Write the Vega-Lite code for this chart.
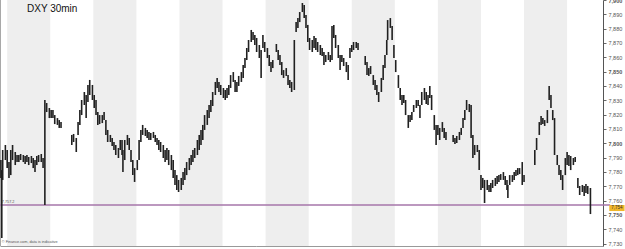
{
"$schema":"https://vega.github.io/schema/vega-lite/v6.json",
"width":603,"height":246,
"autosize":{"type":"none"},
"padding":{"left":0,"top":0,"right":22,"bottom":3},
"background":"white",
"config":{"view":{"stroke":null}},
"data":{"values":[{}]},
"title":{"text":"DXY 30min","anchor":"start","frame":"group","orient":"top","offset":-24,"dx":27,"fontSize":10,"font":"Liberation Sans","fontWeight":"normal","color":"#111","baseline":"alphabetic"},
"layer":[
{"data":{"values":[{"s":8,"e":56},{"s":104,"e":152},{"s":200,"e":248},{"s":296,"e":344},{"s":392,"e":440},{"s":488,"e":536},{"s":584,"e":632}]},
 "mark":{"type":"rect","color":"#eeeeee"},
 "encoding":{"x":{"field":"s","type":"quantitative","scale":{"domain":[0,672],"nice":false,"zero":false},"axis":{"orient":"bottom","domain":true,"domainColor":"#999","ticks":false,"labels":false,"grid":false,"title":null}},"x2":{"field":"e"}}},
{"mark":{"type":"rule","color":"#999","strokeWidth":1},"encoding":{"x":{"datum":0.4}}},
{"mark":{"type":"rule","color":"#a676aa","strokeWidth":1.5,"clip":false},"encoding":{
  "y":{"datum":7.7569,"type":"quantitative","scale":{"domain":[7.7283,7.9],"nice":false,"zero":false},
   "axis":{"orient":"right","title":null,"grid":false,"tickCount":50,"values":[7.73,7.74,7.75,7.76,7.77,7.78,7.79,7.8,7.81,7.82,7.83,7.84,7.85,7.86,7.87,7.88,7.89,7.9],
    "labelExpr":"replace(format(datum.value,'.3f'),'.',',')","labelFontSize":5.5,"labelFont":"Liberation Sans","labelColor":"#555",
    "labelFontWeight":{"condition":{"test":"abs(datum.value*20-round(datum.value*20))<0.001","value":"bold"},"value":"normal"},
    "tickSize":3,"tickColor":"#666","domainColor":"#555","labelPadding":2,"labelFlush":false,"labelOverlap":false}},
  "x":{"datum":0},"x2":{"datum":680}}},
{"mark":{"type":"text","fontSize":3.8,"align":"left","baseline":"bottom","color":"#555","font":"Liberation Sans"},"encoding":{"x":{"datum":2},"y":{"datum":7.7578},"text":{"value":"7,757.2"}}},
{"mark":{"type":"text","fontSize":3.8,"align":"left","baseline":"bottom","color":"#555","font":"Liberation Sans"},"encoding":{"x":{"datum":2},"y":{"datum":7.7297},"text":{"value":"© Finance.com, data is indicative"}}},
{"data":{"values":[
{"b":1,"h":7.7883,"l":7.7758},{"b":2,"h":7.7813,"l":7.7339},{"b":3,"h":7.7953,"l":7.7744},{"b":6,"h":7.7988,"l":7.7883},{"b":8,"h":7.7953,"l":7.7827},{"b":10,"h":7.7869,"l":7.7758},{"b":12,"h":7.7953,"l":7.7778},{"b":14,"h":7.7988,"l":7.7883},{"b":17,"h":7.7939,"l":7.7848},{"b":19,"h":7.7918,"l":7.7869},{"b":21,"h":7.7918,"l":7.7869},{"b":23,"h":7.7925,"l":7.7883},{"b":26,"h":7.7918,"l":7.7869},{"b":28,"h":7.7911,"l":7.7855},{"b":30,"h":7.7918,"l":7.7869},{"b":32,"h":7.7904,"l":7.7848},{"b":35,"h":7.7911,"l":7.7862},{"b":37,"h":7.7897,"l":7.7827},{"b":39,"h":7.7883,"l":7.7799},{"b":41,"h":7.7911,"l":7.7848},{"b":43,"h":7.7918,"l":7.7869},{"b":46,"h":7.7925,"l":7.7869},{"b":48,"h":7.7897,"l":7.7827},{"b":50,"h":7.8302,"l":7.7569},{"b":52,"h":7.8281,"l":7.8218},{"b":55,"h":7.8246,"l":7.8176},{"b":57,"h":7.8232,"l":7.8176},{"b":59,"h":7.8232,"l":7.8176},{"b":61,"h":7.8197,"l":7.8134},{"b":64,"h":7.8176,"l":7.8128},{"b":66,"h":7.8162,"l":7.8107},{"b":68,"h":7.8148,"l":7.8107},
{"b":80,"h":7.8058,"l":7.7988},{"b":82,"h":7.8065,"l":7.8009},{"b":85,"h":7.8037,"l":7.7939},{"b":87,"h":7.8148,"l":7.8058},{"b":89,"h":7.8232,"l":7.8128},{"b":91,"h":7.8302,"l":7.8197},{"b":94,"h":7.8358,"l":7.8267},{"b":96,"h":7.8337,"l":7.8176},{"b":98,"h":7.8407,"l":7.8288},{"b":100,"h":7.8442,"l":7.8337},{"b":103,"h":7.8407,"l":7.8302},{"b":105,"h":7.8337,"l":7.8246},{"b":107,"h":7.8302,"l":7.8197},{"b":109,"h":7.8218,"l":7.8128},{"b":111,"h":7.8197,"l":7.8134},{"b":114,"h":7.8197,"l":7.8141},{"b":116,"h":7.8218,"l":7.8162},{"b":118,"h":7.8162,"l":7.8058},{"b":120,"h":7.8093,"l":7.8009},{"b":123,"h":7.8058,"l":7.8009},{"b":125,"h":7.8037,"l":7.7981},{"b":127,"h":7.8009,"l":7.7953},{"b":129,"h":7.7988,"l":7.7918},{"b":132,"h":7.7967,"l":7.7897},{"b":134,"h":7.8023,"l":7.7953},{"b":136,"h":7.8023,"l":7.7918},{"b":137,"h":7.7953,"l":7.7799},{"b":139,"h":7.8023,"l":7.7883},{"b":142,"h":7.8058,"l":7.7988},{"b":144,"h":7.8037,"l":7.7953},{"b":146,"h":7.7953,"l":7.7869},{"b":148,"h":7.7883,"l":7.7778},{"b":150,"h":7.7827,"l":7.773},{"b":153,"h":7.7883,"l":7.7813},{"b":155,"h":7.8023,"l":7.7883},{"b":157,"h":7.8093,"l":7.8009},{"b":159,"h":7.8128,"l":7.8058},{"b":162,"h":7.8107,"l":7.8051},{"b":164,"h":7.8093,"l":7.8037},{"b":166,"h":7.8079,"l":7.8023},{"b":168,"h":7.8072,"l":7.8023},{"b":171,"h":7.8079,"l":7.8037},{"b":173,"h":7.8058,"l":7.8009},{"b":175,"h":7.8037,"l":7.7988},{"b":177,"h":7.8023,"l":7.7953},{"b":179,"h":7.8009,"l":7.7939},{"b":182,"h":7.7988,"l":7.7897},{"b":184,"h":7.7953,"l":7.7869},{"b":186,"h":7.7967,"l":7.7883},{"b":188,"h":7.7953,"l":7.7848},{"b":191,"h":7.7918,"l":7.7813},{"b":193,"h":7.7883,"l":7.7758},{"b":195,"h":7.7813,"l":7.7709},{"b":197,"h":7.7778,"l":7.7674},{"b":199,"h":7.7744,"l":7.766},{"b":202,"h":7.7758,"l":7.7674},{"b":204,"h":7.7799,"l":7.7709},{"b":206,"h":7.7827,"l":7.7744},{"b":208,"h":7.7869,"l":7.7778},{"b":211,"h":7.7897,"l":7.7813},{"b":213,"h":7.7918,"l":7.7848},{"b":215,"h":7.7953,"l":7.7869},{"b":217,"h":7.7967,"l":7.7897},{"b":220,"h":7.8023,"l":7.7918},{"b":222,"h":7.8058,"l":7.7953},{"b":224,"h":7.8093,"l":7.7988},{"b":226,"h":7.8128,"l":7.8023},{"b":228,"h":7.8197,"l":7.8093},{"b":231,"h":7.8232,"l":7.8128},{"b":233,"h":7.8267,"l":7.8176},{"b":235,"h":7.8302,"l":7.8218},{"b":237,"h":7.8358,"l":7.826},{"b":240,"h":7.8428,"l":7.8337},{"b":242,"h":7.8456,"l":7.8386},{"b":244,"h":7.8428,"l":7.8358},{"b":246,"h":7.8407,"l":7.8337},{"b":249,"h":7.8386,"l":7.8316},{"b":251,"h":7.8372,"l":7.8302},{"b":253,"h":7.8386,"l":7.8316},{"b":255,"h":7.8407,"l":7.8337},{"b":257,"h":7.8476,"l":7.8386},{"b":260,"h":7.8497,"l":7.8428},{"b":262,"h":7.8442,"l":7.8358},{"b":264,"h":7.8428,"l":7.8358},{"b":266,"h":7.847,"l":7.84},{"b":269,"h":7.8497,"l":7.8428},{"b":271,"h":7.8546,"l":7.8456},{"b":273,"h":7.8595,"l":7.8525},{"b":275,"h":7.8665,"l":7.8581},{"b":277,"h":7.8721,"l":7.8637},{"b":280,"h":7.8791,"l":7.8707},{"b":282,"h":7.8777,"l":7.8721},{"b":284,"h":7.8756,"l":7.8686},{"b":286,"h":7.8735,"l":7.8637},{"b":289,"h":7.8686,"l":7.8595},{"b":291,"h":7.8651,"l":7.8456},{"b":293,"h":7.8756,"l":7.8665},{"b":295,"h":7.8707,"l":7.8637},{"b":298,"h":7.8665,"l":7.8595},{"b":300,"h":7.8616,"l":7.8539},{"b":302,"h":7.8567,"l":7.8497},{"b":304,"h":7.8581,"l":7.8525},
{"b":308,"h":7.8693,"l":7.8637},{"b":310,"h":7.8651,"l":7.8581},{"b":312,"h":7.8616,"l":7.8546},{"b":314,"h":7.8567,"l":7.8476},{"b":316,"h":7.8511,"l":7.8456},{"b":319,"h":7.8525,"l":7.847},{"b":321,"h":7.8476,"l":7.8407},{"b":323,"h":7.8442,"l":7.8386},{"b":325,"h":7.8428,"l":7.8358},{"b":328,"h":7.8721,"l":7.8372},{"b":330,"h":7.8846,"l":7.8777},{"b":332,"h":7.8874,"l":7.8805},{"b":334,"h":7.8916,"l":7.8846},{"b":337,"h":7.8979,"l":7.8916},{"b":339,"h":7.8965,"l":7.8874},{"b":341,"h":7.8895,"l":7.8805},{"b":343,"h":7.8826,"l":7.8707},{"b":345,"h":7.8735,"l":7.8651},{"b":348,"h":7.8721,"l":7.8637},{"b":350,"h":7.8749,"l":7.8665},{"b":352,"h":7.8735,"l":7.8651},{"b":354,"h":7.8707,"l":7.8637},{"b":357,"h":7.8686,"l":7.8616},{"b":359,"h":7.8665,"l":7.8609},{"b":361,"h":7.8637,"l":7.8546},{"b":363,"h":7.8616,"l":7.8567},{"b":366,"h":7.8637,"l":7.8581},{"b":368,"h":7.8616,"l":7.8567},{"b":370,"h":7.8819,"l":7.8581},{"b":372,"h":7.8826,"l":7.8735},{"b":374,"h":7.8756,"l":7.8665},{"b":377,"h":7.8686,"l":7.8595},{"b":379,"h":7.8616,"l":7.8511},{"b":381,"h":7.8616,"l":7.8567},{"b":383,"h":7.8595,"l":7.8539},{"b":386,"h":7.8567,"l":7.8497},{"b":388,"h":7.8546,"l":7.8442},{"b":390,"h":7.8665,"l":7.8595},{"b":392,"h":7.8686,"l":7.8637},{"b":394,"h":7.8707,"l":7.8651},{"b":397,"h":7.8707,"l":7.8665},{"b":399,"h":7.87,"l":7.8651},
{"b":407,"h":7.8609,"l":7.8546},{"b":409,"h":7.8567,"l":7.8476},{"b":411,"h":7.8525,"l":7.847},{"b":413,"h":7.8539,"l":7.8483},{"b":416,"h":7.8476,"l":7.8407},{"b":418,"h":7.8442,"l":7.8372},{"b":420,"h":7.8407,"l":7.8337},{"b":422,"h":7.8358,"l":7.8288},{"b":425,"h":7.8456,"l":7.8358},{"b":427,"h":7.8546,"l":7.8442},{"b":429,"h":7.8616,"l":7.8525},{"b":431,"h":7.8721,"l":7.8616},{"b":432,"h":7.886,"l":7.8721},{"b":435,"h":7.8874,"l":7.8805},{"b":437,"h":7.8819,"l":7.8721},{"b":439,"h":7.8686,"l":7.8595},{"b":441,"h":7.8581,"l":7.8497},{"b":444,"h":7.8476,"l":7.8386},{"b":446,"h":7.8386,"l":7.8302},{"b":448,"h":7.8337,"l":7.8267},{"b":450,"h":7.8337,"l":7.8281},{"b":452,"h":7.8302,"l":7.8197},{"b":455,"h":7.8197,"l":7.8107},{"b":457,"h":7.8197,"l":7.8148},{"b":459,"h":7.8218,"l":7.8162},{"b":461,"h":7.8267,"l":7.8218},{"b":464,"h":7.8302,"l":7.8246},{"b":466,"h":7.8302,"l":7.826},{"b":468,"h":7.8267,"l":7.8176},{"b":470,"h":7.8358,"l":7.8267},{"b":473,"h":7.8386,"l":7.8302},{"b":475,"h":7.8358,"l":7.8274},{"b":477,"h":7.8337,"l":7.8267},{"b":479,"h":7.84,"l":7.8316},{"b":481,"h":7.8337,"l":7.8232},{"b":484,"h":7.8197,"l":7.8093},{"b":486,"h":7.8128,"l":7.7988},{"b":488,"h":7.8128,"l":7.8058},{"b":490,"h":7.8107,"l":7.8023},{"b":493,"h":7.8148,"l":7.8079},{"b":495,"h":7.8107,"l":7.8037},{"b":497,"h":7.8079,"l":7.8023},
{"b":505,"h":7.8058,"l":7.8009},{"b":507,"h":7.8037,"l":7.7995},{"b":509,"h":7.8051,"l":7.8002},{"b":512,"h":7.8079,"l":7.8023},{"b":514,"h":7.8107,"l":7.8058},{"b":516,"h":7.8176,"l":7.8107},{"b":518,"h":7.8232,"l":7.8162},{"b":520,"h":7.8302,"l":7.8232},{"b":523,"h":7.8274,"l":7.8218},{"b":525,"h":7.8267,"l":7.8037},{"b":527,"h":7.8058,"l":7.7897},{"b":529,"h":7.7988,"l":7.7918},{"b":532,"h":7.7988,"l":7.7939},{"b":534,"h":7.7953,"l":7.7813},{"b":536,"h":7.7778,"l":7.7674},{"b":538,"h":7.7758,"l":7.7688},{"b":540,"h":7.7744,"l":7.7583},{"b":543,"h":7.7744,"l":7.7674},{"b":545,"h":7.7709,"l":7.766},{"b":547,"h":7.7723,"l":7.766},{"b":549,"h":7.7744,"l":7.7688},{"b":552,"h":7.7758,"l":7.7702},{"b":554,"h":7.7772,"l":7.7716},{"b":556,"h":7.7778,"l":7.773},{"b":558,"h":7.7785,"l":7.7744},{"b":561,"h":7.7799,"l":7.7744},{"b":563,"h":7.7772,"l":7.7709},{"b":565,"h":7.7744,"l":7.7674},{"b":566,"h":7.7709,"l":7.7618},{"b":568,"h":7.7778,"l":7.7709},{"b":571,"h":7.7778,"l":7.773},{"b":573,"h":7.7799,"l":7.7744},{"b":575,"h":7.7813,"l":7.7772},{"b":577,"h":7.7827,"l":7.7778},{"b":579,"h":7.7827,"l":7.7785},{"b":582,"h":7.7869,"l":7.7709},{"b":584,"h":7.7778,"l":7.773},
{"b":596,"h":7.7953,"l":7.7848},{"b":598,"h":7.8037,"l":7.7953},{"b":601,"h":7.8148,"l":7.8058},{"b":603,"h":7.819,"l":7.8128},{"b":605,"h":7.8176,"l":7.8134},{"b":607,"h":7.8162,"l":7.8121},{"b":610,"h":7.8232,"l":7.8141},{"b":612,"h":7.84,"l":7.8302},{"b":614,"h":7.8337,"l":7.8246},{"b":616,"h":7.8232,"l":7.8162},{"b":618,"h":7.8176,"l":7.7918},{"b":621,"h":7.7918,"l":7.7848},{"b":623,"h":7.7848,"l":7.7778},{"b":625,"h":7.7813,"l":7.7744},{"b":627,"h":7.7778,"l":7.7674},{"b":630,"h":7.7897,"l":7.7778},{"b":632,"h":7.7939,"l":7.7848},{"b":634,"h":7.7918,"l":7.7841},{"b":636,"h":7.7911,"l":7.7813},{"b":639,"h":7.7897,"l":7.7848},{"b":641,"h":7.7904,"l":7.7869},
{"b":644,"h":7.7758,"l":7.7688},{"b":646,"h":7.7702,"l":7.7639},{"b":649,"h":7.7709,"l":7.766},{"b":651,"h":7.7702,"l":7.7632},{"b":653,"h":7.7716,"l":7.7653},{"b":655,"h":7.7702,"l":7.7646},{"b":658,"h":7.7688,"l":7.7506}
]},
 "mark":{"type":"rule","color":"#202020","strokeWidth":1.6},
 "encoding":{"x":{"field":"b","type":"quantitative"},
  "y":{"field":"h","type":"quantitative"},
  "y2":{"field":"l"}}},
{"mark":{"type":"rect","color":"#f0b628","clip":false},"encoding":{"x":{"datum":679},"x2":{"datum":696},"y":{"datum":7.7527},"y2":{"datum":7.7569}}},
{"mark":{"type":"text","fontSize":4.5,"align":"center","baseline":"middle","color":"#333","font":"Liberation Sans","clip":false},"encoding":{"x":{"datum":687.5},"y":{"datum":7.7548},"text":{"value":"7,754"}}}
]
}
